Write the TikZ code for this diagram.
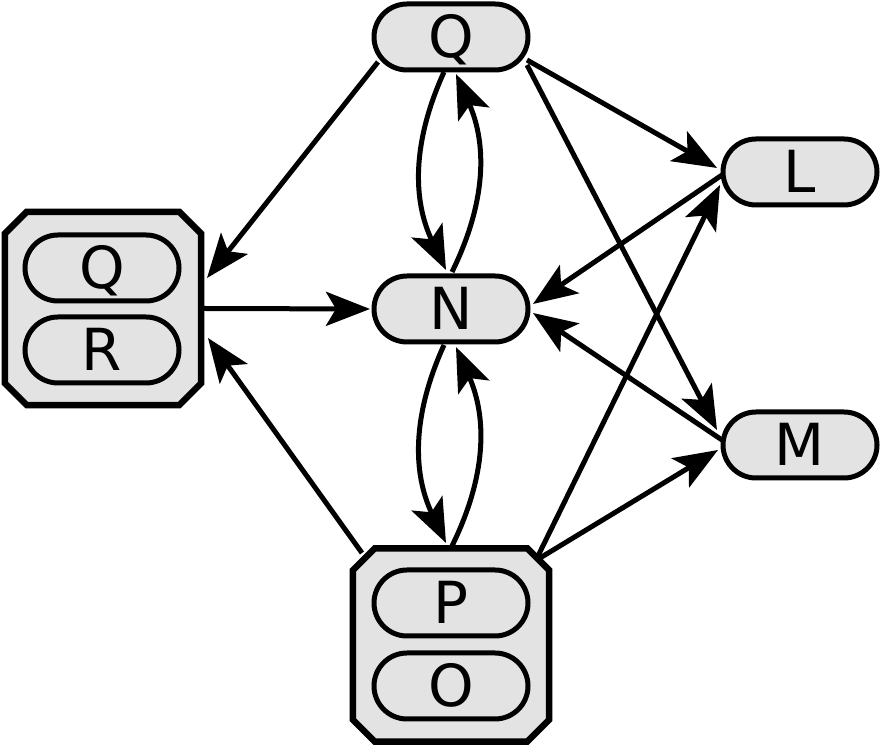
\documentclass[tikz,border=0pt]{standalone}
\usepackage{fontspec}
\setmainfont{DejaVu Sans}
\usetikzlibrary{arrows.meta,calc}
\definecolor{boxgray}{HTML}{E3E3E3}
\begin{document}
\begin{tikzpicture}[x=1pt,y=1pt,
  pill/.style={draw,line width=5pt,fill=boxgray,rounded corners=33pt,
    minimum width=154pt,minimum height=66pt,inner sep=0pt,
    text height=42pt,text depth=0pt,font=\fontsize{58}{62}\selectfont},
  grpbox/.style={minimum width=196pt,minimum height=193pt,inner sep=0pt},
  octo/.style={draw,line width=6.5pt,fill=boxgray,line join=miter},
  conn/.style={line width=5pt,-{Stealth[length=44pt,width=34pt,inset=10pt]}}]
\useasboundingbox (0,0) rectangle (881,746);
% group boxes
\node[grpbox] (LO) at (103,437.5) {};
\node[grpbox] (BO) at (451,101) {};
\foreach \g in {LO,BO}{
  \draw[octo] ($(\g.north west)+(22,0)$) -- ($(\g.north east)+(-22,0)$)
    -- ($(\g.north east)+(0,-22)$) -- ($(\g.south east)+(0,22)$)
    -- ($(\g.south east)+(-22,0)$) -- ($(\g.south west)+(22,0)$)
    -- ($(\g.south west)+(0,22)$) -- ($(\g.north west)+(0,-22)$) -- cycle;
}
% pills
\node[pill] (Qt) at (451,709) {Q};
\node[pill] (L)  at (800,574) {L};
\node[pill] (M)  at (800,301) {M};
\node[pill] (N)  at (451,437) {N};
\node[pill] (LQ) at (102,478) {Q};
\node[pill] (LR) at (102,396) {R};
\node[pill] (BP) at (451,143) {P};
\node[pill] (BOo) at (451,60) {O};
% connectors
\draw[conn] ($(Qt)+(-73,-25)$) -- ($(LO)+(104,30.5)$);
\draw[conn] ($(Qt)+(-7,-35)$) to[bend right=25] ($(N)+(-5,39)$);
\draw[conn] ($(N)+(1,37)$) to[bend right=25] ($(Qt)+(5,-37)$);
\draw[conn] ($(Qt)+(76,-23)$) -- ($(L)+(-83,4)$);
\draw[conn] ($(Qt)+(76,-28)$) -- ($(M)+(-83,15)$);
\draw[conn] ($(L)+(-78,-3)$) -- ($(N)+(82,5)$);
\draw[conn] ($(M)+(-78,5)$) -- ($(N)+(82,-4)$);
\draw[conn] ($(LO)+(100,0)$) -- ($(N)+(-81,0)$);
\draw[conn] ($(BO)+(-89,92)$) -- ($(LO)+(105,-29.5)$);
\draw[conn] ($(N)+(-7,-36)$) to[bend right=25] ($(BO)+(-5,102)$);
\draw[conn] ($(BO)+(1,99)$) to[bend right=25] ($(N)+(5,-38)$);
\draw[conn] ($(BO)+(89,87)$) -- ($(M)+(-82,-5)$);
\draw[conn] ($(BO)+(86,87)$) -- ($(L)+(-80,-13)$);
\end{tikzpicture}
\end{document}
